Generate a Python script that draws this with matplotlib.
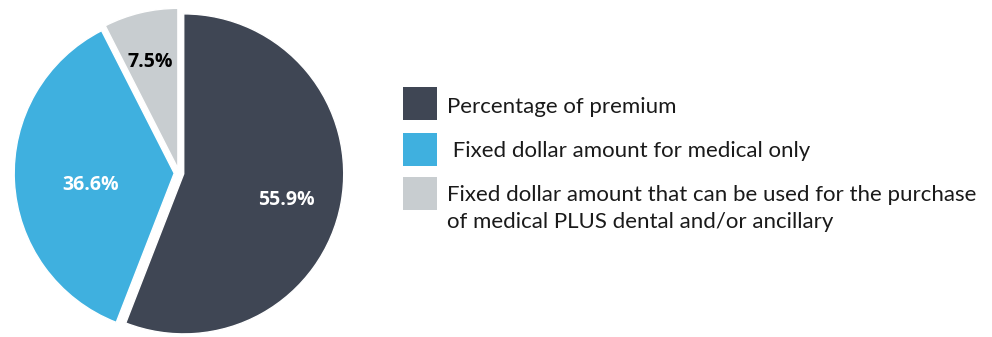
import numpy as np
import matplotlib
matplotlib.use("Agg")
import matplotlib.pyplot as plt
from matplotlib.patches import Rectangle

# contribution approach shares
labels = ["Percentage of premium",
          " Fixed dollar amount for medical only",
          "Fixed dollar amount that can be used for the purchase\nof medical PLUS dental and/or ancillary"]
shares = [55.9, 36.6, 7.5]
colors = ["#3f4654", "#3fb0df", "#c8cdd0"]
pct_colors = ["white", "white", "black"]
pct_dist = [0.65, 0.52, 0.73]

W, H = 992, 337
fig = plt.figure(figsize=(W / 100, H / 100), dpi=100)

# pie axes: one data unit = 160 px, centre at (179, 173) px from top-left
R = 160.0
cx, cy = 179, 173
ax = fig.add_axes([0, 0, 1, 1])
wedges, _ = ax.pie(shares, colors=colors, startangle=90, counterclock=False,
                   explode=[0.03] * 3, radius=1.0,
                   wedgeprops=dict(edgecolor="white", linewidth=1.0))
ax.set_aspect("auto")
ax.set_xlim(-cx / R, (W - cx) / R)
ax.set_ylim(-(H - cy) / R, cy / R)
ax.axis("off")

for w, s, c, d in zip(wedges, shares, pct_colors, pct_dist):
    mid = np.deg2rad((w.theta1 + w.theta2) / 2)
    x0, y0 = w.center
    ax.text(x0 + d * np.cos(mid), y0 + d * np.sin(mid) - 0.03, f"{s}%",
            ha="center", va="center_baseline", color=c, fontsize=14,
            fontweight="bold", family="Open Sans")

# legend drawn in pixel coordinates (y grows downward)
lg = fig.add_axes([0, 0, 1, 1], facecolor="none")
lg.set_xlim(0, W)
lg.set_ylim(H, 0)
lg.axis("off")
box_y = [87, 133, 177]
base_y = [113, 157, 201]
for by, ty, lab, col in zip(box_y, base_y, labels, colors):
    lg.add_patch(Rectangle((403, by), 34, 33, color=col, lw=0))
    for k, line in enumerate(lab.split("\n")):
        lg.text(447, ty + 27 * k, line, ha="left", va="baseline", fontsize=16,
                family="Lato", color="#1a1a1a")

fig.savefig("out.png", dpi=100)
